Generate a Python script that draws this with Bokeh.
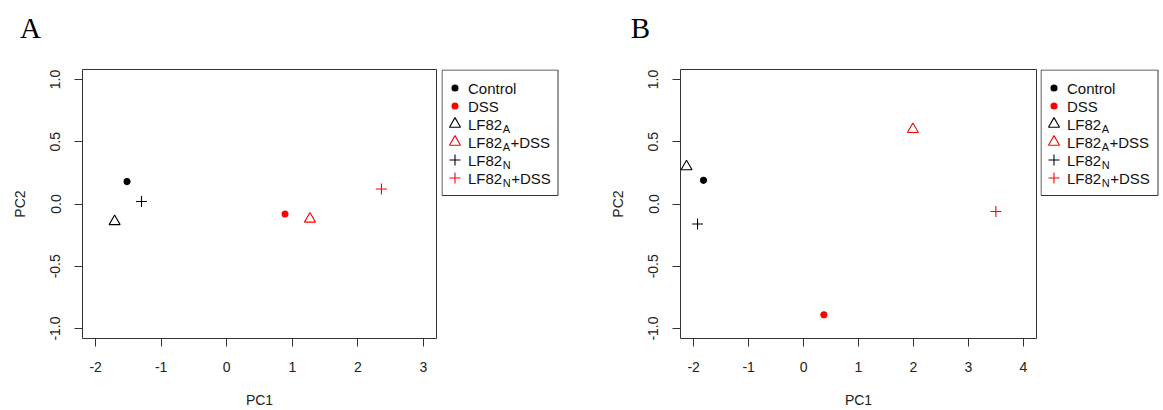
from bokeh.plotting import figure
from bokeh.models import ColumnDataSource, Range1d, FixedTicker, PrintfTickFormatter
from bokeh.layouts import row, column
from bokeh.embed import file_html
from bokeh.resources import INLINE
from bokeh.core.properties import value

# ---------------- data ----------------
panel_letters = ["A", "B"]
x_titles = ["PC1", "PC1"]
groups = ["Control", "DSS", "LF82A", "LF82A+DSS", "LF82N", "LF82N+DSS"]
pc1_A = [-1.52, 0.89, -1.71, 1.27, -1.30, 2.36]
pc2_A = [0.18, -0.08, -0.14, -0.12, 0.02, 0.12]
pc1_B = [-1.82, 0.37, -2.13, 1.99, -1.93, 3.50]
pc2_B = [0.19, -0.89, 0.30, 0.60, -0.16, -0.06]
x_ticks_A = [-2, -1, 0, 1, 2, 3]
x_ticks_B = [-2, -1, 0, 1, 2, 3, 4]
y_ticks = [-1.0, -0.5, 0.0, 0.5, 1.0]
legend_main = ["Control", "DSS", "LF82", "LF82", "LF82", "LF82"]
legend_sub = ["", "", "A", "A", "N", "N"]
legend_tail = ["", "", "", "+DSS", "", "+DSS"]

# ---------------- styles ----------------
colors = ["#000000", "#ff0000", "#000000", "#ff0000", "#000000", "#ff0000"]
markers = ["circle", "circle", "triangle", "triangle", "cross", "cross"]
sizes = [6, 6, 11, 11, 11, 11]
fill_alphas = [1, 1, 0, 0, 0, 0]

FONT = "Liberation Sans"
FS = 14
LFS = 15
SUB_FS = 11
LINE = "#333333"
TXT = "#222222"
W = 1163
HEAD = 45
FOOT = 30
H = 410 - HEAD - FOOT
FRAME_TOP = 69 - HEAD
FRAME_H = 269
BORDER_BOTTOM = H - FRAME_TOP - FRAME_H

ADV = {"L": 0.556, "F": 0.611, "8": 0.556, "2": 0.556, "A": 0.667, "N": 0.722,
       "+": 0.584, "D": 0.722, "S": 0.667, "C": 0.722, "o": 0.556, "n": 0.556,
       "t": 0.278, "r": 0.333, "l": 0.222}


def tw(s, fs):
    return sum(ADV.get(c, 0.556) for c in s) * fs


def blank(width, height, yr):
    q = figure(width=width, height=height, x_range=Range1d(0, width), y_range=yr,
               output_backend="svg", toolbar_location=None,
               min_border_left=0, min_border_right=0,
               min_border_top=0, min_border_bottom=0,
               x_axis_location=None, y_axis_location=None)
    q.grid.visible = False
    q.outline_line_color = None
    q.border_fill_color = "white"
    q.background_fill_color = "white"
    return q


# header with panel letters
header = blank(W, HEAD, Range1d(HEAD, 0))
header.text([30, 640], [27.5, 27.5], text=panel_letters,
            text_font=value("Liberation Serif"), text_font_size="29px",
            text_align="center", text_baseline="middle", text_color="#000000")

# footer with x-axis titles (centred under each plot frame)
footer = blank(W, FOOT, Range1d(FOOT, 0))
footer.text([259, 858], [19.5, 19.5], text=x_titles,
            text_font=value(FONT), text_font_size=f"{FS}px",
            text_align="center", text_baseline="middle", text_color=TXT)


def panel(xs, ys, xr, xticks, border_left, frame_w, border_right):
    p = figure(width=border_left + frame_w + border_right, height=H,
               x_range=Range1d(*xr), y_range=Range1d(-1.08, 1.08),
               output_backend="svg", toolbar_location=None,
               min_border_left=border_left, min_border_right=border_right,
               min_border_top=FRAME_TOP, min_border_bottom=BORDER_BOTTOM)
    p.xgrid.visible = False
    p.ygrid.visible = False
    p.outline_line_color = LINE
    p.outline_line_width = 1
    p.background_fill_color = "white"
    p.border_fill_color = "white"

    src = ColumnDataSource(dict(x=xs, y=ys, marker=markers, size=sizes,
                                color=colors, falpha=fill_alphas, group=groups))
    p.scatter("x", "y", marker="marker", size="size", line_color="color",
              fill_color="color", fill_alpha="falpha", line_width=1.1, source=src)

    for ax in (p.xaxis[0], p.yaxis[0]):
        ax.axis_line_color = LINE
        ax.major_tick_line_color = LINE
        ax.minor_tick_line_color = None
        ax.major_tick_in = 0
        ax.major_tick_out = 8
        ax.major_label_text_font = FONT
        ax.major_label_text_font_size = f"{FS}px"
        ax.major_label_text_color = TXT
        ax.axis_label_text_font = FONT
        ax.axis_label_text_font_size = f"{FS}px"
        ax.axis_label_text_font_style = "normal"
        ax.axis_label_text_color = TXT

    p.xaxis.ticker = FixedTicker(ticks=xticks)
    p.xaxis.formatter = PrintfTickFormatter(format="%d")
    p.xaxis.bounds = (xticks[0], xticks[-1])
    p.xaxis.major_label_standoff = 15

    p.yaxis.ticker = FixedTicker(ticks=y_ticks)
    p.yaxis.formatter = PrintfTickFormatter(format="%.1f")
    p.yaxis.bounds = (y_ticks[0], y_ticks[-1])
    p.yaxis.major_label_orientation = "vertical"
    p.yaxis.major_label_standoff = 14
    p.yaxis.axis_label = "PC2"
    p.yaxis.axis_label_standoff = 20
    return p


def legend_fig(width, box_right):
    q = blank(width, H, Range1d(FRAME_H, 0))
    q.min_border_top = FRAME_TOP
    q.min_border_bottom = BORDER_BOTTOM
    q.quad(left=[0.5], right=[box_right], top=[0.5], bottom=[126],
           fill_color=None, line_color=LINE, line_width=1)

    n = len(groups)
    ys = [18.5 + 18 * i for i in range(n)]
    q.scatter([13.5] * n, ys, marker=markers, size=sizes, line_color=colors,
              fill_color=colors, fill_alpha=fill_alphas, line_width=1.1)

    tx = 26.5
    q.text([tx] * n, ys, text=legend_main, text_font=value(FONT),
           text_font_size=f"{LFS}px", text_baseline="middle", text_color="#111111")
    sx, sy, st = [], [], []
    ux, uy, ut = [], [], []
    for i in range(n):
        if legend_sub[i]:
            x0 = tx + tw(legend_main[i], LFS) + 0.5
            sx.append(x0)
            sy.append(ys[i] + 4.5)
            st.append(legend_sub[i])
            if legend_tail[i]:
                ux.append(x0 + tw(legend_sub[i], SUB_FS) + 0.5)
                uy.append(ys[i])
                ut.append(legend_tail[i])
    q.text(sx, sy, text=st, text_font=value(FONT), text_font_size=f"{SUB_FS}px",
           text_baseline="middle", text_color="#111111")
    q.text(ux, uy, text=ut, text_font=value(FONT), text_font_size=f"{LFS}px",
           text_baseline="middle", text_color="#111111")
    return q


pA = panel(pc1_A, pc2_A, (-2.2, 3.2), x_ticks_A, 82, 354, 5)
lA = legend_fig(159, 116.5)
pB = panel(pc1_B, pc2_B, (-2.24, 4.24), x_ticks_B, 80, 356, 4)
lB = legend_fig(123, 117.5)

layout = column(header, row(pA, lA, pB, lB, spacing=0), footer, spacing=0)

open("out.html", "w").write(file_html(layout, INLINE))
